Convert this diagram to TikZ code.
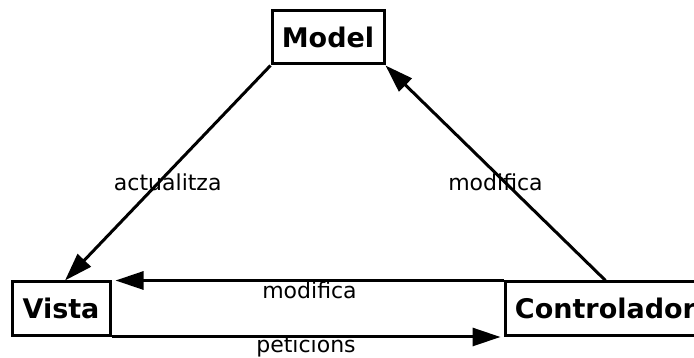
\documentclass[tikz,border=0pt]{standalone}
\usepackage{fontspec}
\setmainfont{DejaVu Sans}
\usetikzlibrary{arrows.meta}

\begin{document}
\begin{tikzpicture}[x=1pt,y=1pt,
		block/.style={draw,line width=3pt,minimum height=53.5pt,inner sep=0pt,font=\bfseries\fontsize{27}{32}\selectfont},
		link/.style={line width=3pt,-{Triangle[length=28pt,width=18pt]}},
		tag/.style={anchor=base,font=\fontsize{22}{26}\selectfont}]
	\useasboundingbox (0,0) rectangle (694,358);
	\node[block,minimum width=112pt,minimum height=53pt] (model) at (328,320.5) {Model};
	\node[block,minimum width=98pt] (vista) at (61,49.25) {Vista};
	\node[block,minimum width=201pt] (ctrl) at (605.5,49.25) {Controlador};
	
	\draw[link] (model.south west) -- node[tag,midway,yshift=-18pt]{actualitza} ([xshift=4pt]vista.north);
	\draw[link] (ctrl.north) -- node[tag,midway,yshift=-18pt]{modifica} (model.south east);
	\draw[link] (ctrl.north west) -- node[tag,midway,yshift=-18pt]{modifica} ([xshift=4pt]vista.north east);
	\draw[link] (vista.south east) -- node[tag,midway,yshift=-16pt]{peticions} ([xshift=-3pt]ctrl.south west);
\end{tikzpicture}
\end{document}
